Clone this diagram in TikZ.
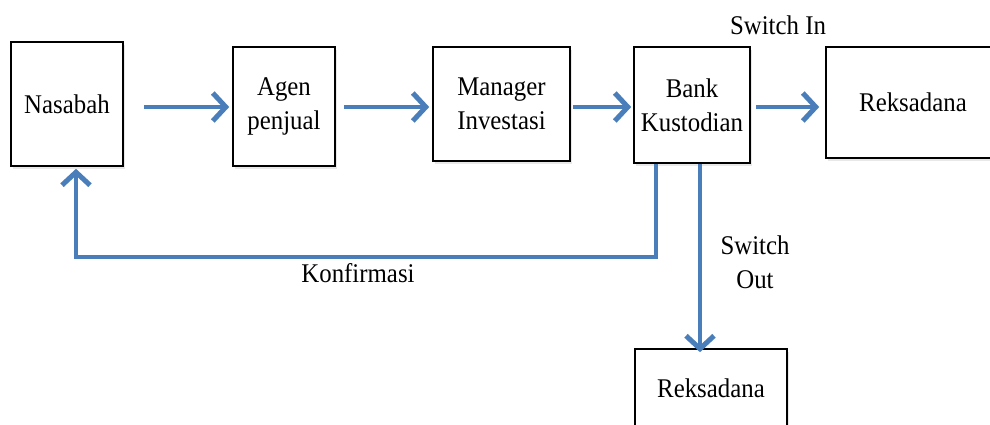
\documentclass[tikz,border=0pt]{standalone}
\usepackage{fontspec}
\setmainfont{Liberation Serif}[FakeStretch=0.92]
\usetikzlibrary{arrows.meta,shadows}
\definecolor{arrblue}{HTML}{4A7EBB}
\tikzset{
  box/.style={draw=black, line width=1.6pt, fill=white, inner sep=0pt, align=center,
    font=\fontsize{27}{34}\selectfont,
    drop shadow={opacity=0.18, shadow xshift=2pt, shadow yshift=-3pt}},
  arr/.style={draw=arrblue, line width=4.5pt,
    -{Straight Barb[length=13pt,width=28pt,line width=5pt]}},
  varr/.style={arr, line width=4pt},
  lbl/.style={font=\fontsize{27}{34}\selectfont, align=center, inner sep=0pt}
}
\begin{document}
\begin{tikzpicture}[x=1pt,y=-1pt]
\clip (0,0) rectangle (990,425);
\fill[white] (0,0) rectangle (990,425);
\node[box, minimum width=112pt, minimum height=124pt] (nas) at (67,104) {Nasabah};
\node[box, minimum width=102pt, minimum height=119pt] (agen) at (284,106.5) {Agen\\penjual};
\node[box, minimum width=137pt, minimum height=114pt] (man) at (501.5,104) {Manager\\Investasi};
\node[box, minimum width=116pt, minimum height=116pt] (bank) at (692,105) {Bank\\Kustodian};
\node[box, minimum width=174pt, minimum height=111pt] (reks1) at (913,102.5) {Reksadana};
\node[box, minimum width=152pt, minimum height=79pt] (reks2) at (711,388.5) {Reksadana};
\coordinate (row) at (0,107);
\coordinate (kr) at (656,257);
\coordinate (kl) at (76,257);
\coordinate (sx) at (700,0);
\draw[arr] ([xshift=20pt]nas.east |- row) -- ([xshift=-3pt]agen.west |- row);
\draw[arr] ([xshift=8pt]agen.east |- row) -- ([xshift=-3pt]man.west |- row);
\draw[arr] ([xshift=2pt]man.east |- row) -- ([xshift=-2pt]bank.west |- row);
\draw[arr] ([xshift=5pt]bank.east |- row) -- ([xshift=-6pt]reks1.west |- row);
\draw[varr] (bank.south -| kr) -- (kr) -- (kl) -- ([yshift=-2pt]nas.south -| kl);
\draw[varr] (bank.south -| sx) -- ([yshift=-4pt]reks2.north -| sx);
\node[lbl] (swin) at (778,25) {Switch In};
\node[lbl] (swout) at (755,262) {Switch\\Out};
\node[lbl] (konf) at (358,273) {Konfirmasi};
\end{tikzpicture}
\end{document}
